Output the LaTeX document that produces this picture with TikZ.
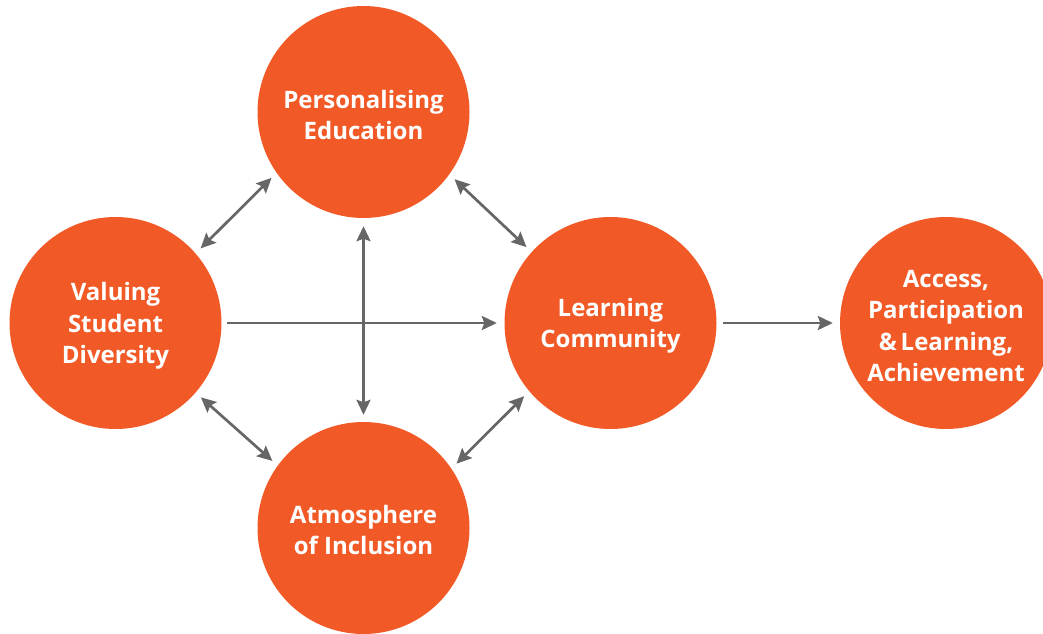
\documentclass[tikz,border=0pt]{standalone}
\usepackage{fontspec}
\setmainfont{Open Sans}
\usetikzlibrary{arrows.meta}
\definecolor{circ}{HTML}{F15A27}
\definecolor{arrgray}{HTML}{666666}
\begin{document}
\begin{tikzpicture}[x=1pt,y=1pt,
  bubble/.style={circle,fill=circ,minimum size=212pt,inner sep=0pt},
  txt/.style={text=white,font=\bfseries\fontsize{24}{31.5}\selectfont,align=center,inner sep=0pt},
  link/.style={draw=arrgray,line width=2.7pt,
    {Stealth[length=15pt,width=14pt,inset=2.5pt]}-{Stealth[length=15pt,width=14pt,inset=2.5pt]}},
  flow/.style={draw=arrgray,line width=2.7pt,-{Stealth[length=15pt,width=14pt,inset=2.5pt]}}]
\useasboundingbox (0,0) rectangle (1043,633);
\node[bubble] (V) at (115.5,310) {};
\node[bubble] (P) at (363.5,521) {};
\node[bubble] (L) at (610.5,310) {};
\node[bubble] (A) at (363.5,105) {};
\node[bubble] (X) at (946,310) {};
\node[txt] (Vt) at ([yshift=-3pt]V.center) {Valuing\\Student\\Diversity};
\node[txt] (Pt) at ([yshift=-3pt]P.center) {Personalising\\Education};
\node[txt] (Lt) at ([yshift=-3pt]L.center) {Learning\\Community};
\node[txt] (At) at ([yshift=-2pt]A.center) {Atmosphere\\of Inclusion};
\node[txt] (Xt) at ([yshift=-3pt]X.center) {Access,\\Participation\\\&\,Learning,\\Achievement};
\draw[link,shorten <=7pt,shorten >=7pt] (V.41.6) -- (P.215.1);
\draw[link,shorten <=7pt,shorten >=7pt] (P.324.6) -- (L.138.1);
\draw[link,shorten <=7pt,shorten >=7pt] (L.220.5) -- (A.34.8);
\draw[link,shorten <=7pt,shorten >=7pt] (V.319.6) -- (A.144.9);
\draw[link,shorten <=8pt,shorten >=7pt] (P.south) -- (A.north);
\draw[flow,shorten <=5.5pt,shorten >=7.5pt] (V.east) -- (L.west);
\draw[flow,shorten <=6.5pt,shorten >=7pt] (L.east) -- (X.west);
\end{tikzpicture}
\end{document}
